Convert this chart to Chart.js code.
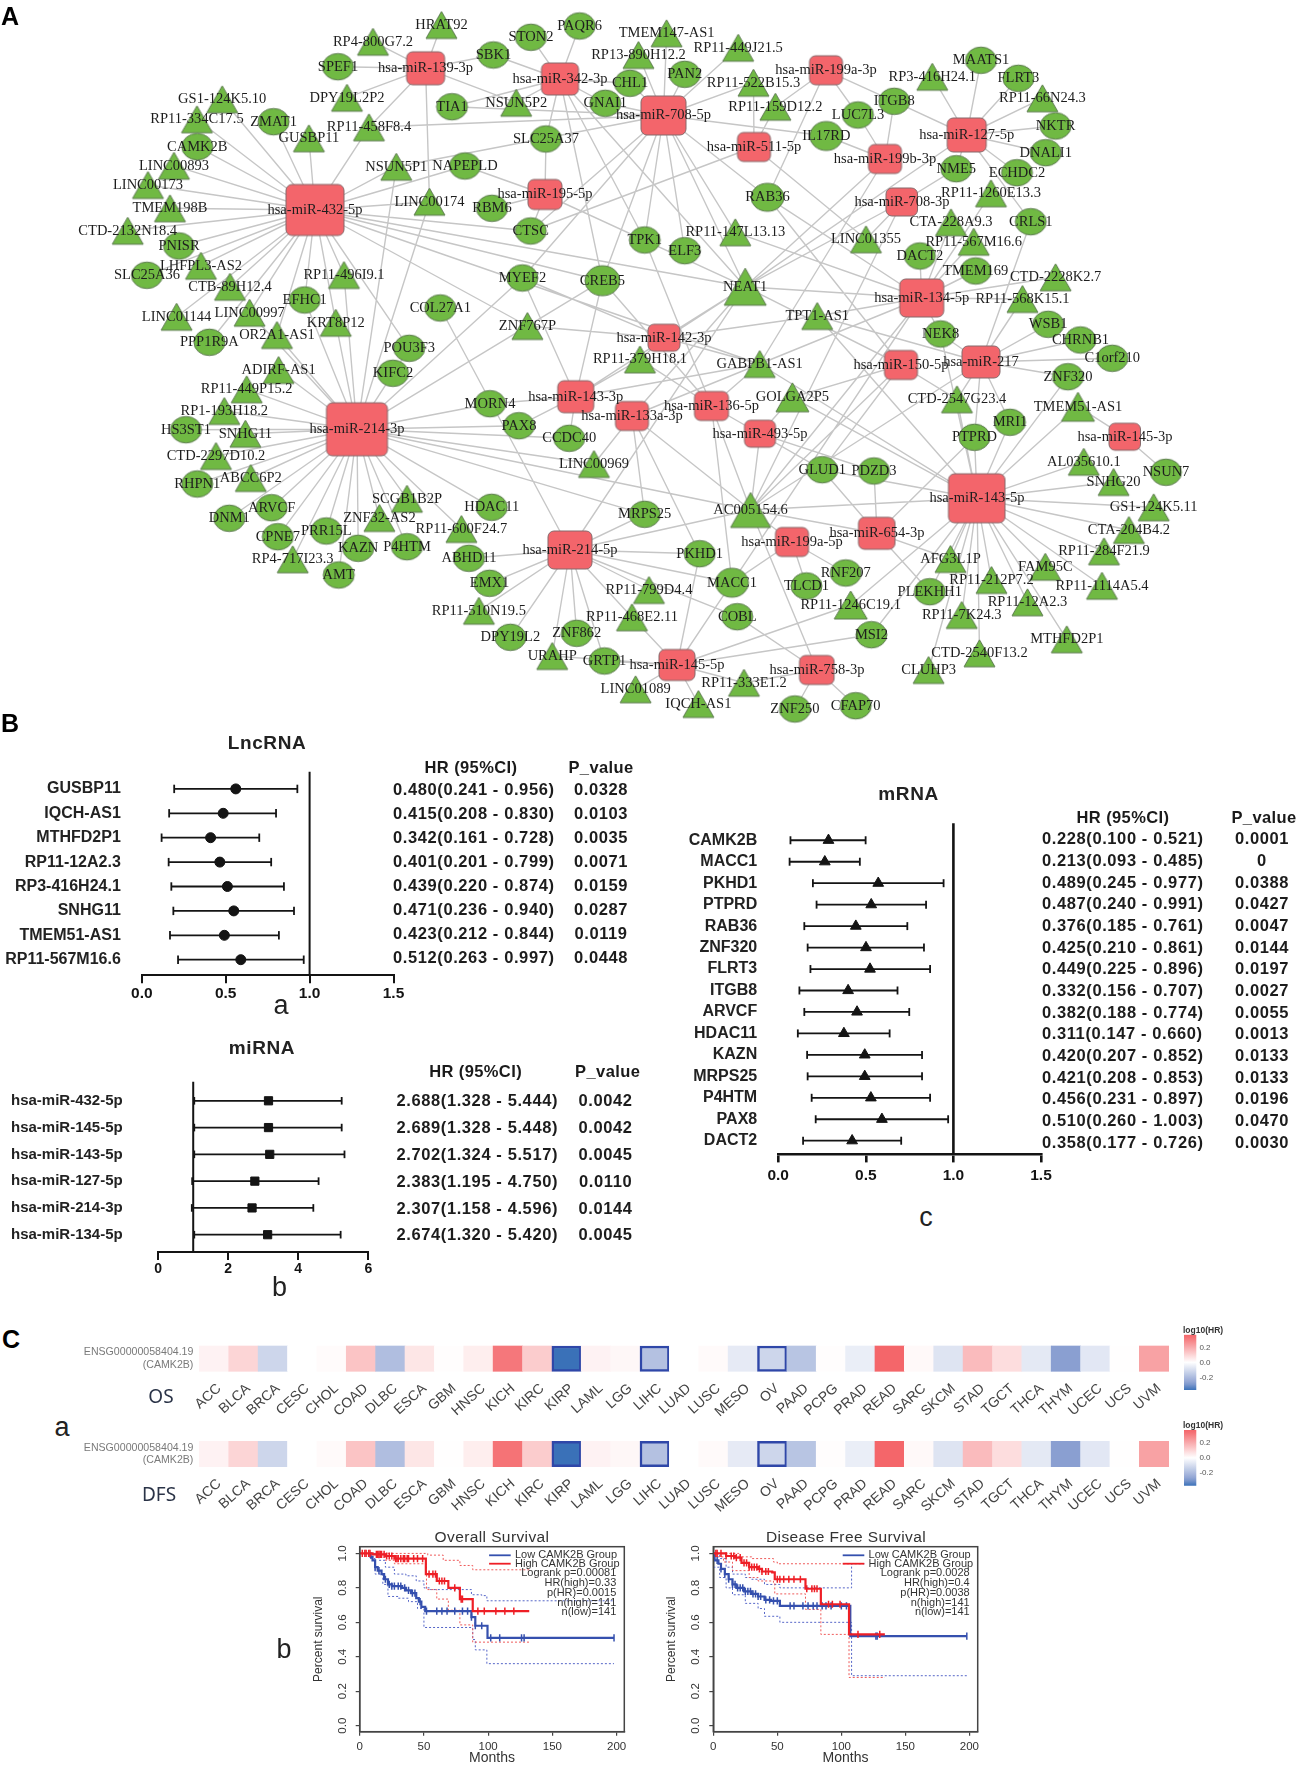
<!DOCTYPE html>
<html>
<head>
<meta charset="utf-8">
<title>CAMK2B network and survival</title>
<script src="https://cdn.jsdelivr.net/npm/chart.js@4"></script>
<style>
html, body { margin: 0; padding: 0; background: #fff; }
body { position: relative; width: 1299px; height: 1767px; overflow: hidden; font-family: "Liberation Sans", Arial, sans-serif; }
canvas { position: absolute; filter: blur(0.4px); }
.t { position: absolute; white-space: nowrap; transform: translate(-50%, -50%); color: #1a1a1a; }
</style>
</head>
<body>
<script>
'use strict';

// ---- A: network as [name, x, y, w, h] in layout units
const mirNodes = [
  ['hsa-miR-432-5p', 315, 210, 58, 51], ['hsa-miR-139-3p', 425.6, 68.3, 38, 33],
  ['hsa-miR-342-3p', 560, 79, 37, 32], ['hsa-miR-195-5p', 545, 194.5, 34, 30],
  ['hsa-miR-708-5p', 663.5, 115.5, 45, 39], ['hsa-miR-199a-3p', 826, 70.3, 33, 29],
  ['hsa-miR-511-5p', 754, 147, 33, 29], ['hsa-miR-199b-3p', 885, 159, 33, 29],
  ['hsa-miR-127-5p', 966.7, 135, 39, 34], ['hsa-miR-708-3p', 902, 202, 31.5, 28],
  ['hsa-miR-134-5p', 921.7, 298, 44, 38], ['hsa-miR-142-3p', 664, 337.7, 32, 27],
  ['hsa-miR-150-5p', 901, 365, 33, 29], ['hsa-miR-217', 981, 362, 38, 32],
  ['hsa-miR-143-3p', 575.7, 396.7, 36, 32], ['hsa-miR-133a-3p', 632, 416, 33, 29],
  ['hsa-miR-136-5p', 711.5, 406, 34, 29], ['hsa-miR-493-5p', 760, 433.7, 31, 27],
  ['hsa-miR-214-3p', 357, 429.3, 61, 53], ['hsa-miR-145-3p', 1125, 436.7, 31.5, 27],
  ['hsa-miR-143-5p', 977, 498.3, 56.5, 49], ['hsa-miR-654-3p', 877, 533.3, 36.5, 32],
  ['hsa-miR-199a-5p', 792, 542, 33, 29], ['hsa-miR-214-5p', 570, 550, 44, 38],
  ['hsa-miR-145-5p', 677, 665, 36, 31], ['hsa-miR-758-3p', 817, 670, 34.6, 29],
];
const mrnaNodes = [
  ['SPEF1', 338, 66.7], ['SBK1', 493.4, 55], ['STON2', 531, 37.3], ['PAQR6', 579.6, 26],
  ['CHL1', 630, 83.3], ['GNAI1', 605.3, 103.3], ['TIA1', 452, 106.7], ['ZMAT1', 273.6, 121.7],
  ['CAMK2B', 197.3, 146.7], ['SLC25A37', 546, 139], ['NAPEPLD', 465, 166], ['RBM6', 492, 208.3],
  ['CTSC', 530.7, 231], ['PNISR', 179, 246], ['SLC25A36', 147, 275.3], ['EFHC1', 304.7, 300],
  ['MYEF2', 522.4, 278], ['CREB5', 602.4, 280.7, 35, 30], ['COL27A1', 440.3, 308], ['PPP1R9A', 209.4, 342.3],
  ['POU3F3', 409.2, 348.3], ['TPK1', 644.7, 240], ['PAN2', 684.8, 74.3], ['LUC7L3', 858, 115],
  ['ITGB8', 894.2, 101.3], ['IL17RD', 826.3, 136, 33, 29], ['MAATS1', 981, 60.3], ['FLRT3', 1018.4, 78.3],
  ['NKTR', 1055.6, 126], ['DNALI1', 1045.7, 152.7], ['NME5', 956.3, 168.7], ['ECHDC2', 1017, 172.7],
  ['RAB36', 767.5, 197.3, 33, 28], ['CRLS1', 1030.8, 221.7], ['ELF3', 684.8, 250.7], ['DACT2', 919.9, 256],
  ['TMEM169', 975.7, 271], ['NEK8', 940.6, 334], ['WSB1', 1048.2, 324.3], ['CHRNB1', 1080.5, 340],
  ['C1orf210', 1112.3, 358.3], ['KIFC2', 393, 373.3], ['MORN4', 490, 403.7], ['PAX8', 519, 425.7],
  ['CCDC40', 569.2, 438.3], ['HS3ST1', 186, 429.7], ['RHPN1', 197.3, 484], ['ARVCF', 271.6, 507.7],
  ['DNM1', 229.3, 518.3], ['CPNE7', 277.8, 536.7], ['PRR15L', 326.3, 531], ['KAZN', 358.2, 548.3],
  ['P4HTM', 407, 546.7], ['AMT', 338.7, 575], ['HDAC11', 491.7, 507.3], ['ABHD11', 469, 558.3],
  ['EMX1', 489.6, 583.3], ['DPY19L2', 510.4, 637.3], ['ZNF862', 576.7, 633.3], ['GRTP1', 604.5, 661],
  ['MRPS25', 644.7, 514.3], ['ZNF320', 1068, 376.7], ['MRI1', 1010, 422.3], ['PTPRD', 974.5, 437.3],
  ['NSUN7', 1166, 472.3], ['GLUD1', 822.2, 469.7], ['PDZD3', 874, 471], ['PKHD1', 699.7, 553.7],
  ['MACC1', 732, 582.7, 33, 29], ['TLCD1', 806.5, 586], ['RNF207', 845.8, 573], ['PLEKHH1', 929.8, 591.7],
  ['COBL', 737.3, 616.7], ['MSI2', 871.4, 634.7], ['ZNF250', 794.9, 709], ['CFAP70', 855.7, 705.7],
];
const lncNodes = [
  ['HRAT92', 441.5, 25], ['RP4-800G7.2', 373, 41.7], ['DPY19L2P2', 347, 97.7], ['GS1-124K5.10', 222.2, 99.3],
  ['RP11-334C17.5', 197, 119.3], ['RP11-458F8.4', 369, 127.3], ['GUSBP11', 308.9, 138.3], ['NSUN5P2', 516.2, 102.7],
  ['NSUN5P1', 396.3, 166.7], ['LINC00893', 174, 165.7], ['LINC00173', 148, 185], ['LINC00174', 429.5, 201.7],
  ['TMEM198B', 170, 208.3], ['CTD-2132N18.4', 127.7, 230.7], ['LHFPL3-AS2', 201, 265.7], ['CTB-89H12.4', 230, 286.7],
  ['RP11-496I9.1', 344, 275], ['LINC01144', 176.6, 316.7], ['LINC00997', 249.6, 312.7], ['KRT8P12', 335.8, 322.7],
  ['OR2A1-AS1', 277, 335], ['ZNF767P', 527.4, 326], ['RP13-890H12.2', 638.5, 55], ['TMEM147-AS1', 666.6, 33.3],
  ['RP11-449J21.5', 738.2, 47.7], ['RP11-522B15.3', 753.5, 82.7], ['RP11-159D12.2', 775.4, 106.7], ['RP3-416H24.1', 932.3, 76.7],
  ['RP11-66N24.3', 1042.4, 98.3], ['RP11-1260E13.3', 991, 193.3], ['CTA-228A9.3', 951, 222.3], ['LINC01355', 866, 239.3],
  ['RP11-567M16.6', 973.7, 241.7], ['RP11-147L13.13', 735.3, 232.3], ['NEAT1', 745.2, 286.7, 42, 37], ['TPT1-AS1', 817.2, 316],
  ['CTD-2228K2.7', 1055.6, 277.3], ['RP11-568K15.1', 1022.5, 299], ['GABPB1-AS1', 759.7, 364], ['RP11-379H18.1', 640, 359.4],
  ['ADIRF-AS1', 278.6, 370], ['RP11-449P15.2', 246.7, 389.3], ['RP1-193H18.2', 224.3, 411], ['SNHG11', 245.4, 433.7],
  ['CTD-2297D10.2', 216, 456], ['ABCC6P2', 250.8, 478], ['SCGB1B2P', 407, 498.7], ['ZNF32-AS2', 379.4, 518],
  ['RP11-600F24.7', 461.4, 529], ['RP4-717I23.3', 292.7, 559.3], ['RP11-510N19.5', 478.9, 610.7], ['URAHP', 552.2, 656],
  ['LINC00969', 594, 464], ['LINC01089', 635.6, 689.3], ['RP11-799D4.4', 649, 590], ['RP11-468E2.11', 632, 617.3],
  ['GOLGA2P5', 792.4, 397.3, 33, 29], ['CTD-2547G23.4', 957, 399.3], ['TMEM51-AS1', 1078, 406.7, 33, 29], ['AL035610.1', 1083.8, 461.7],
  ['SNHG20', 1113.6, 482], ['GS1-124K5.11', 1153.7, 507.3], ['CTA-204B4.2', 1128.9, 530], ['RP11-284F21.9', 1104, 551.3],
  ['AC005154.6', 750.6, 510, 40, 35], ['AFG3L1P', 950.5, 559], ['FAM95C', 1045.3, 566.7], ['RP11-212P7.2', 991.5, 580],
  ['RP11-1114A5.4', 1102, 585.7], ['RP11-12A2.3', 1027.5, 602.3], ['RP11-1246C19.1', 850.7, 605, 33, 28], ['RP11-7K24.3', 961.7, 615],
  ['MTHFD2P1', 1066.8, 639.3], ['CTD-2540F13.2', 979.5, 653.3], ['CLUHP3', 928.6, 670], ['RP11-333E1.2', 744, 682.7],
  ['IQCH-AS1', 698.4, 704],
];
// miRNA -> targets, edges traced by eye
const mirTargets = {
  'hsa-miR-432-5p': ['GS1-124K5.10', 'RP11-334C17.5', 'ZMAT1', 'GUSBP11', 'CAMK2B', 'LINC00893', 'LINC00173', 'TMEM198B', 'CTD-2132N18.4', 'PNISR', 'LHFPL3-AS2', 'SLC25A36', 'CTB-89H12.4', 'LINC01144', 'LINC00997', 'PPP1R9A', 'OR2A1-AS1', 'EFHC1', 'RP11-496I9.1', 'KRT8P12', 'POU3F3', 'RP11-458F8.4', 'NSUN5P1', 'NAPEPLD', 'LINC00174', 'CTSC', 'CREB5', 'NEAT1', 'ZNF767P', 'GABPB1-AS1'],
  'hsa-miR-139-3p': ['RP4-800G7.2', 'HRAT92', 'SPEF1', 'SBK1', 'DPY19L2P2', 'RP11-458F8.4', 'LINC00174', 'NSUN5P2'],
  'hsa-miR-342-3p': ['STON2', 'PAQR6', 'SBK1', 'CHL1', 'GNAI1', 'NSUN5P2', 'TIA1', 'SLC25A37', 'TPK1', 'CREB5', 'NEAT1'],
  'hsa-miR-195-5p': ['NAPEPLD', 'SLC25A37', 'RBM6', 'CTSC', 'NEAT1'],
  'hsa-miR-708-5p': ['CHL1', 'PAN2', 'TMEM147-AS1', 'RP13-890H12.2', 'RP11-449J21.5', 'RP11-522B15.3', 'GNAI1', 'IL17RD', 'RP11-458F8.4', 'NSUN5P1', 'CTSC', 'MYEF2', 'CREB5', 'TPK1', 'RAB36', 'ELF3', 'NEAT1', 'RP11-147L13.13', 'TIA1'],
  'hsa-miR-199a-3p': ['ITGB8', 'LUC7L3', 'RP11-159D12.2', 'RAB36'],
  'hsa-miR-511-5p': ['RP11-522B15.3', 'RP11-159D12.2', 'LINC01355', 'CTSC'],
  'hsa-miR-199b-3p': ['IL17RD', 'LUC7L3', 'ITGB8', 'NEAT1', 'GABPB1-AS1'],
  'hsa-miR-127-5p': ['ITGB8', 'RP3-416H24.1', 'MAATS1', 'FLRT3', 'RP11-66N24.3', 'NKTR', 'DNALI1', 'ECHDC2', 'NME5', 'CRLS1', 'NEAT1'],
  'hsa-miR-708-3p': ['NME5', 'NEAT1', 'LINC01355', 'AC005154.6'],
  'hsa-miR-134-5p': ['DACT2', 'RP11-567M16.6', 'CTA-228A9.3', 'RP11-1260E13.3', 'TMEM169', 'CTD-2228K2.7', 'RP11-568K15.1', 'NEK8', 'RAB36', 'NEAT1', 'TPT1-AS1', 'AC005154.6', 'GABPB1-AS1', 'MACC1', 'RP11-147L13.13'],
  'hsa-miR-142-3p': ['GABPB1-AS1', 'NEAT1', 'ZNF767P', 'RP11-379H18.1', 'TPT1-AS1', 'MYEF2'],
  'hsa-miR-150-5p': ['GOLGA2P5', 'AC005154.6', 'GLUD1', 'CTD-2547G23.4', 'NEAT1', 'RAB36'],
  'hsa-miR-217': ['WSB1', 'CHRNB1', 'C1orf210', 'ZNF320', 'RP11-568K15.1', 'CTD-2547G23.4', 'PTPRD', 'MRI1', 'CRLS1', 'TPT1-AS1', 'AC005154.6', 'NEK8'],
  'hsa-miR-143-3p': ['MORN4', 'PAX8', 'CCDC40', 'RP11-379H18.1', 'GABPB1-AS1', 'NEAT1', 'CREB5', 'MYEF2'],
  'hsa-miR-133a-3p': ['MRPS25', 'AC005154.6', 'NEAT1', 'PKHD1', 'LINC00969', 'GABPB1-AS1'],
  'hsa-miR-136-5p': ['GABPB1-AS1', 'MACC1', 'AC005154.6', 'RP11-379H18.1', 'GLUD1', 'TPK1', 'CREB5'],
  'hsa-miR-493-5p': ['AC005154.6', 'GOLGA2P5', 'PDZD3'],
  'hsa-miR-214-3p': ['ADIRF-AS1', 'RP11-449P15.2', 'RP1-193H18.2', 'HS3ST1', 'SNHG11', 'CTD-2297D10.2', 'RHPN1', 'ABCC6P2', 'ARVCF', 'DNM1', 'CPNE7', 'PRR15L', 'RP4-717I23.3', 'KAZN', 'AMT', 'ZNF32-AS2', 'SCGB1B2P', 'P4HTM', 'RP11-600F24.7', 'HDAC11', 'MRPS25', 'LINC00969', 'CCDC40', 'MORN4', 'PAX8', 'KIFC2', 'POU3F3', 'OR2A1-AS1', 'KRT8P12', 'RP11-496I9.1', 'EFHC1', 'LINC00174', 'NSUN5P1', 'MYEF2', 'ZNF767P', 'CREB5', 'AC005154.6', 'LINC00997'],
  'hsa-miR-145-3p': ['TMEM51-AS1', 'NSUN7'],
  'hsa-miR-143-5p': ['PTPRD', 'MRI1', 'TMEM51-AS1', 'AL035610.1', 'SNHG20', 'GS1-124K5.11', 'CTA-204B4.2', 'RP11-284F21.9', 'RP11-1114A5.4', 'FAM95C', 'RP11-212P7.2', 'RP11-12A2.3', 'MTHFD2P1', 'RP11-7K24.3', 'CTD-2540F13.2', 'CLUHP3', 'AFG3L1P', 'PLEKHH1', 'RP11-1246C19.1', 'MSI2', 'AC005154.6', 'GLUD1', 'GOLGA2P5', 'CTD-2547G23.4', 'GABPB1-AS1', 'TPT1-AS1', 'NEK8', 'ZNF320'],
  'hsa-miR-654-3p': ['GLUD1', 'PDZD3', 'AFG3L1P', 'PLEKHH1', 'AC005154.6', 'PTPRD'],
  'hsa-miR-199a-5p': ['RNF207', 'TLCD1', 'AC005154.6', 'MACC1'],
  'hsa-miR-214-5p': ['ABHD11', 'EMX1', 'RP11-510N19.5', 'DPY19L2', 'ZNF862', 'URAHP', 'GRTP1', 'RP11-799D4.4', 'RP11-468E2.11', 'MRPS25', 'COL27A1', 'AC005154.6', 'PKHD1', 'MACC1', 'NEAT1', 'COBL'],
  'hsa-miR-145-5p': ['GRTP1', 'LINC01089', 'IQCH-AS1', 'RP11-333E1.2', 'PKHD1', 'MACC1', 'MSI2', 'RP11-1246C19.1', 'RP11-468E2.11', 'URAHP'],
  'hsa-miR-758-3p': ['ZNF250', 'CFAP70', 'COBL', 'AC005154.6', 'RP11-333E1.2'],
};

// ---- B: forest plots, plotted lo / mid / hi
const lncNames = ['GUSBP11', 'IQCH-AS1', 'MTHFD2P1', 'RP11-12A2.3', 'RP3-416H24.1', 'SNHG11', 'TMEM51-AS1', 'RP11-567M16.6'];
const lncLo = [0.193, 0.163, 0.118, 0.16, 0.176, 0.188, 0.168, 0.216];
const lncMid = [0.56, 0.485, 0.41, 0.465, 0.51, 0.548, 0.492, 0.59];
const lncHi = [0.927, 0.80, 0.70, 0.771, 0.847, 0.907, 0.817, 0.965];
const lncHR = ['0.480(0.241 - 0.956)', '0.415(0.208 - 0.830)', '0.342(0.161 - 0.728)', '0.401(0.201 - 0.799)', '0.439(0.220 - 0.874)', '0.471(0.236 - 0.940)', '0.423(0.212 - 0.844)', '0.512(0.263 - 0.997)'];
const lncP = ['0.0328', '0.0103', '0.0035', '0.0071', '0.0159', '0.0287', '0.0119', '0.0448'];

const mirNames = ['hsa-miR-432-5p', 'hsa-miR-145-5p', 'hsa-miR-143-5p', 'hsa-miR-127-5p', 'hsa-miR-214-3p', 'hsa-miR-134-5p'];
const mirLo = [1.03, 1.03, 1.03, 0.97, 0.96, 1.03];
const mirMid = [3.15, 3.15, 3.185, 2.76, 2.68, 3.125];
const mirHi = [5.24, 5.24, 5.32, 4.58, 4.43, 5.21];
const mirHR = ['2.688(1.328 - 5.444)', '2.689(1.328 - 5.448)', '2.702(1.324 - 5.517)', '2.383(1.195 - 4.750)', '2.307(1.158 - 4.596)', '2.674(1.320 - 5.420)'];
const mirP = ['0.0042', '0.0042', '0.0045', '0.0110', '0.0144', '0.0045'];

const mrnaNames = ['CAMK2B', 'MACC1', 'PKHD1', 'PTPRD', 'RAB36', 'ZNF320', 'FLRT3', 'ITGB8', 'ARVCF', 'HDAC11', 'KAZN', 'MRPS25', 'P4HTM', 'PAX8', 'DACT2'];
const mrnaLo = [0.07, 0.065, 0.198, 0.219, 0.149, 0.168, 0.184, 0.121, 0.149, 0.112, 0.165, 0.168, 0.191, 0.214, 0.142];
const mrnaMid = [0.287, 0.266, 0.571, 0.531, 0.443, 0.501, 0.524, 0.399, 0.45, 0.375, 0.494, 0.494, 0.529, 0.592, 0.422];
const mrnaHi = [0.499, 0.466, 0.944, 0.844, 0.737, 0.832, 0.867, 0.681, 0.748, 0.636, 0.821, 0.821, 0.867, 0.97, 0.702];
const mrnaHR = ['0.228(0.100 - 0.521)', '0.213(0.093 - 0.485)', '0.489(0.245 - 0.977)', '0.487(0.240 - 0.991)', '0.376(0.185 - 0.761)', '0.425(0.210 - 0.861)', '0.449(0.225 - 0.896)', '0.332(0.156 - 0.707)', '0.382(0.188 - 0.774)', '0.311(0.147 - 0.660)', '0.420(0.207 - 0.852)', '0.421(0.208 - 0.853)', '0.456(0.231 - 0.897)', '0.510(0.260 - 1.003)', '0.358(0.177 - 0.726)'];
const mrnaP = ['0.0001', '0', '0.0388', '0.0427', '0.0047', '0.0144', '0.0197', '0.0027', '0.0055', '0.0013', '0.0133', '0.0133', '0.0196', '0.0470', '0.0030'];

// ---- C: heat strips and survival curves
const cancers = ['ACC', 'BLCA', 'BRCA', 'CESC', 'CHOL', 'COAD', 'DLBC', 'ESCA', 'GBM', 'HNSC', 'KICH', 'KIRC', 'KIRP', 'LAML', 'LGG', 'LIHC', 'LUAD', 'LUSC', 'MESO', 'OV', 'PAAD', 'PCPG', 'PRAD', 'READ', 'SARC', 'SKCM', 'STAD', 'TGCT', 'THCA', 'THYM', 'UCEC', 'UCS', 'UVM'];
const osLogHR = [0.03, 0.10, -0.12, 0, 0.01, 0.14, -0.19, 0.06, 0.005, 0.04, 0.32, 0.12, -0.37, 0.03, 0.02, -0.18, 0, 0.012, -0.06, -0.12, -0.17, 0.005, -0.05, 0.36, 0.015, -0.08, 0.16, 0.08, -0.065, -0.28, -0.07, 0.003, 0.22];
const dfsLogHR = [0.03, 0.10, -0.12, 0, 0.012, 0.14, -0.19, 0.06, 0.003, 0.04, 0.33, 0.12, -0.37, 0.03, 0.02, -0.18, 0, 0.012, -0.06, -0.12, -0.17, 0.005, -0.05, 0.36, 0.015, -0.08, 0.16, 0.08, -0.065, -0.28, -0.07, 0.003, 0.22];
const sigCancers = ['KIRP', 'LIHC', 'OV'];
const geneLabel = ['ENSG00000058404.19', '(CAMK2B)'];
const colourTicks = [0.2, 0, -0.2];

const osLow = [[8, 1], [8.5, 0.98], [10, 0.96], [12, 0.92], [14, 0.90], [17, 0.88], [19, 0.85], [22, 0.82], [25, 0.81], [33, 0.80], [36, 0.785], [40, 0.77], [44, 0.74], [46, 0.72], [48, 0.69], [51, 0.665], [87, 0.63], [90, 0.58], [99.5, 0.51], [198, 0.51]];
const osHigh = [[0, 1], [10, 0.995], [20, 0.985], [27, 0.97], [51.5, 0.88], [60, 0.84], [69, 0.80], [78, 0.735], [88, 0.665], [132, 0.665]];
const osLowUp = [[8, 1], [15, 0.96], [20, 0.92], [27, 0.88], [36, 0.87], [44, 0.84], [50, 0.80], [55, 0.79], [87, 0.76], [95, 0.755], [99, 0.725], [198, 0.725]];
const osLowDown = [[8, 0.97], [12, 0.88], [18, 0.82], [22, 0.75], [30, 0.74], [38, 0.72], [45, 0.68], [50, 0.57], [87, 0.565], [88, 0.5], [90, 0.44], [99, 0.36], [198, 0.36]];
const osHighUp = [[0, 1], [51, 1], [53, 0.99], [65, 0.96], [78, 0.93], [88, 0.905], [132, 0.905]];
const osHighDown = [[0, 1], [20, 0.96], [27, 0.94], [52, 0.79], [60, 0.735], [69, 0.67], [78, 0.585], [88, 0.485], [132, 0.485]];
const osLowCens = [12, 15, 20, 23, 25, 27, 30, 32, 35, 38, 41, 43, 47, 52, 60, 64, 68, 74, 80, 84, 87, 90, 95, 102, 109, 126, 128, 198];
const osHighCens = [2, 4, 5, 7, 8, 13, 14, 15, 16, 17, 19, 21, 23, 25, 28, 29, 30, 32, 34, 35, 37, 38, 42, 45, 49, 54, 57, 59, 62, 64, 66, 74, 79, 80, 92, 97, 106, 113, 120];
const osStats = ['Logrank p=0.00081', 'HR(high)=0.33', 'p(HR)=0.0015', 'n(high)=141', 'n(low)=141'];

const dfsLow = [[0, 1], [1, 0.96], [4, 0.94], [6, 0.91], [9, 0.88], [12, 0.85], [15, 0.82], [18, 0.80], [24, 0.78], [30, 0.765], [35, 0.75], [40, 0.73], [45, 0.725], [52, 0.695], [107, 0.52], [198, 0.52]];
const dfsHigh = [[0, 1], [5, 1], [10, 0.985], [17, 0.975], [22, 0.945], [28, 0.92], [35, 0.91], [38, 0.895], [46, 0.89], [48, 0.85], [72, 0.795], [84, 0.705], [106, 0.53], [134, 0.53]];
const dfsLowUp = [[0, 1], [5, 0.97], [10, 0.92], [15, 0.88], [25, 0.86], [30, 0.85], [40, 0.82], [52, 0.80], [108, 0.94], [118, 0.94]];
const dfsLowDown = [[0, 0.92], [5, 0.86], [10, 0.80], [15, 0.76], [25, 0.71], [35, 0.68], [40, 0.635], [52, 0.60], [108, 0.29], [198, 0.29]];
const dfsHighUp = [[0, 1], [10, 1], [20, 0.98], [30, 0.97], [47, 0.95], [50, 0.94], [107, 0.94]];
const dfsHighDown = [[0, 0.98], [8, 0.95], [15, 0.90], [28, 0.86], [35, 0.84], [47, 0.83], [48, 0.765], [72, 0.675], [84, 0.53], [106, 0.28], [134, 0.28]];
const dfsLowCens = [3, 6, 9, 12, 15, 17, 19, 21, 23, 25, 27, 29, 31, 33, 35, 37, 41, 44, 47, 50, 60, 63, 70, 74, 78, 81, 85, 88, 92, 100, 104, 127, 128, 198];
const dfsHighCens = [2, 3, 6, 10, 14, 16, 18, 21, 24, 26, 28, 30, 32, 34, 36, 38, 41, 43, 50, 52, 55, 59, 63, 68, 73, 77, 79, 81, 90, 93, 99, 113, 130];
const dfsStats = ['Logrank p=0.0028', 'HR(high)=0.4', 'p(HR)=0.0038', 'n(high)=141', 'n(low)=141'];
const kmGroups = ['Low CAMK2B Group', 'High CAMK2B Group'];

Chart.defaults.font.family = '"Liberation Sans", Arial, sans-serif';
Chart.defaults.animation = false;
Chart.defaults.layout.autoPadding = false;
Chart.defaults.plugins.legend.display = false;
Chart.defaults.plugins.tooltip.enabled = false;

const BLACK = '#141414';
const EDGE = '#c6c6c6';
const RED_NODE = '#f3656b';
const GREEN_NODE = '#70b943';

function addText(str, x, y, css) {
  const d = document.createElement('div');
  d.className = 't';
  d.textContent = str;
  d.style.cssText = `left:${x}px;top:${y}px;${css}`;
  document.body.appendChild(d);
}

// canvas placed so that the plot area lands on box {l,t,r,b}; m = margins round it
// top margin has to stay above ticks.padding + half a label or chart.js eats into the plot
function place(box, m) {
  const left = Math.round(box.l - m.l);
  const top = Math.round(box.t - m.t);
  const c = document.createElement('canvas');
  c.width = Math.ceil(box.r + m.r - left);
  c.height = Math.ceil(box.b + m.b - top);
  c.style.left = left + 'px';
  c.style.top = top + 'px';
  document.body.appendChild(c);
  return {
    canvas: c,
    leftW: box.l - left,
    bottomH: c.height - (box.b - top),
    padding: { top: box.t - top, right: c.width - (box.r - left), left: 0, bottom: 0 },
  };
}
const fixTicks = vals => s => { s.ticks = vals.map(v => ({ value: v })); };

// ---- network
function sprite(kind, w, h) {
  const pad = 2;
  const c = document.createElement('canvas');
  c.width = Math.ceil(w + pad * 2);
  c.height = Math.ceil(h + pad * 2);
  const g = c.getContext('2d');
  g.beginPath();
  if (kind === 'rect') {
    g.roundRect(pad, pad, w, h, 6);
    g.fillStyle = RED_NODE;
    g.strokeStyle = '#85696b';
  } else if (kind === 'ellipse') {
    g.ellipse(c.width / 2, c.height / 2, w / 2, h / 2, 0, 0, Math.PI * 2);
    g.fillStyle = GREEN_NODE;
    g.strokeStyle = '#5d7a50';
  } else {
    g.moveTo(c.width / 2, pad);
    g.lineTo(pad + w, pad + h);
    g.lineTo(pad, pad + h);
    g.closePath();
    g.fillStyle = GREEN_NODE;
    g.strokeStyle = '#5d7a50';
  }
  g.lineWidth = 1;
  g.fill();
  g.stroke();
  return c;
}

const allNodes = [...mirNodes, ...mrnaNodes, ...lncNodes];
const nodeByName = {};
allNodes.forEach(n => { nodeByName[n[0]] = n; });
const edgePts = [];
Object.keys(mirTargets).forEach(m => {
  mirTargets[m].forEach(t => {
    const a = nodeByName[m], b = nodeByName[t];
    if (!a || !b) { console.warn('missing node', m, t); return; }
    edgePts.push({ x: a[1], y: a[2] }, { x: b[1], y: b[2] }, { x: NaN, y: NaN });
  });
});

function nodeSet(nodes, kind, defW, defH) {
  const sprites = nodes.map(n => sprite(kind, n[3] || defW, n[4] || defH));
  return {
    data: nodes.map(n => ({ x: n[1], y: n[2] })),
    pointStyle: ctx => sprites[ctx.dataIndex],
    pointRadius: 10,
    clip: false,
  };
}

const netFrame = place({ l: 0, t: 0, r: 1299, b: 725 }, { l: 0, t: 0, r: 0, b: 0 });
new Chart(netFrame.canvas, {
  type: 'scatter',
  data: {
    datasets: [
      nodeSet(mirNodes, 'rect', 34, 29),
      nodeSet(mrnaNodes, 'ellipse', 31, 26.5),
      nodeSet(lncNodes, 'tri', 31, 27),
      { data: edgePts, showLine: true, spanGaps: false, borderColor: EDGE, borderWidth: 1.4, pointRadius: 0, clip: false },
    ],
  },
  options: {
    responsive: false,
    events: [],
    layout: { padding: 0 },
    scales: {
      x: { display: false, min: 0, max: 1299 },
      y: { display: false, min: 0, max: 725, reverse: true },
    },
  },
  plugins: [{
    id: 'nodeNames',
    afterDatasetsDraw(chart) {
      const { ctx, scales } = chart;
      ctx.save();
      ctx.font = '14.5px "Liberation Serif", "Times New Roman", serif';
      ctx.fillStyle = '#1d1d1d';
      ctx.textAlign = 'center';
      ctx.textBaseline = 'middle';
      allNodes.forEach(n => ctx.fillText(n[0], scales.x.getPixelForValue(n[1]), scales.y.getPixelForValue(n[2])));
      ctx.restore();
    },
  }],
});

// ---- forest plots
function forest(o) {
  const f = place(o.box, o.margin);
  const yMin = -(o.rowY0 - o.box.t) / o.rowStep;
  const yMax = (o.box.b - o.rowY0) / o.rowStep;
  const rows = o.names.map((_, i) => i);
  const whisker = [];
  const caps = [];
  rows.forEach(i => {
    whisker.push({ x: o.lo[i], y: i }, { x: o.hi[i], y: i }, { x: NaN, y: NaN });
    caps.push({ x: o.lo[i], y: i }, { x: o.hi[i], y: i });
  });
  new Chart(f.canvas, {
    type: 'scatter',
    data: {
      datasets: [
        { data: rows.map(i => ({ x: o.mid[i], y: i })), pointStyle: o.marker, pointRadius: o.markerR, pointBackgroundColor: BLACK, pointBorderColor: BLACK, clip: false },
        { data: caps, pointStyle: 'line', pointRotation: 90, pointRadius: o.capR, pointBorderColor: BLACK, pointBorderWidth: 1.8, clip: false },
        { data: whisker, showLine: true, spanGaps: false, pointRadius: 0, borderColor: BLACK, borderWidth: 1.8, clip: false },
        { data: [{ x: 1, y: yMin }, { x: 1, y: yMax }], showLine: true, pointRadius: 0, borderColor: BLACK, borderWidth: o.axisW, clip: false },
      ],
    },
    options: {
      responsive: false,
      events: [],
      layout: { padding: f.padding },
      scales: {
        x: {
          min: o.ticks[0],
          max: o.ticks[o.ticks.length - 1],
          afterBuildTicks: fixTicks(o.ticks),
          afterFit: s => { s.height = f.bottomH; },
          grid: { drawOnChartArea: false, drawTicks: true, tickLength: 8, color: BLACK, lineWidth: o.axisW },
          border: { display: true, color: BLACK, width: o.axisW },
          ticks: { color: BLACK, font: { weight: 'bold', size: o.tickSize }, padding: o.tickPad, maxRotation: 0, callback: v => o.fmt(v) },
        },
        y: {
          reverse: true,
          min: yMin,
          max: yMax,
          afterBuildTicks: fixTicks(rows),
          afterFit: s => { s.width = f.leftW; },
          grid: { display: false, drawTicks: false },
          border: { display: false },
          ticks: { color: '#222', font: { weight: 'bold', size: o.nameSize }, padding: o.namePad, crossAlign: o.crossAlign || 'near', callback: v => o.names[v] },
        },
      },
    },
    plugins: [{
      id: 'hrColumns',
      afterDraw(chart) {
        const ctx = chart.ctx;
        const left = parseFloat(f.canvas.style.left);
        const top = parseFloat(f.canvas.style.top);
        ctx.save();
        ctx.font = 'bold 16.5px "Liberation Sans", Arial, sans-serif';
        ctx.letterSpacing = '0.6px';
        ctx.fillStyle = '#1c1c1c';
        ctx.textBaseline = 'middle';
        rows.forEach(i => {
          const y = o.textY0 + i * o.textStep - top;
          ctx.textAlign = 'left';
          ctx.fillText(o.hr[i], o.hrX - left, y);
          ctx.textAlign = 'center';
          ctx.fillText(o.p[i], o.pX - left, y);
        });
        ctx.restore();
      },
    }],
  });
}

const oneDec = v => v.toFixed(1);
forest({
  box: { l: 141.8, t: 771.7, r: 393.5, b: 975.3 }, margin: { l: 141.8, t: 40, r: 262, b: 30 },
  names: lncNames, lo: lncLo, mid: lncMid, hi: lncHi, hr: lncHR, p: lncP,
  rowY0: 788.9, rowStep: 24.4, ticks: [0, 0.5, 1, 1.5], fmt: oneDec, marker: 'circle', markerR: 5, capR: 4.2, axisW: 2,
  nameSize: 16, namePad: 21, tickSize: 15.5, tickPad: 1, textY0: 790.4, textStep: 24.0, hrX: 393, pX: 601,
});
forest({
  box: { l: 158.2, t: 1081.7, r: 368.3, b: 1252 }, margin: { l: 147, t: 40, r: 285, b: 30 },
  names: mirNames, lo: mirLo, mid: mirMid, hi: mirHi, hr: mirHR, p: mirP,
  rowY0: 1100.8, rowStep: 26.78, ticks: [0, 2, 4, 6], fmt: v => String(v), marker: 'rect', markerR: 5.8, capR: 3.8, axisW: 2,
  nameSize: 15, namePad: 20, crossAlign: 'far', tickSize: 14, tickPad: 1, textY0: 1101.5, textStep: 26.88, hrX: 396.5, pX: 605.6,
});
forest({
  box: { l: 778.2, t: 823.3, r: 1041, b: 1155 }, margin: { l: 170, t: 40, r: 258, b: 30 },
  names: mrnaNames, lo: mrnaLo, mid: mrnaMid, hi: mrnaHi, hr: mrnaHR, p: mrnaP,
  rowY0: 840.3, rowStep: 21.5, ticks: [0, 0.5, 1, 1.5], fmt: oneDec, marker: 'triangle', markerR: 6.2, capR: 4, axisW: 2.6,
  nameSize: 16, namePad: 21, tickSize: 15.5, tickPad: 4, textY0: 839.7, textStep: 21.67, hrX: 1042, pX: 1262,
});

// ---- heat strips
const lerp = (a, b, t) => a.map((v, i) => Math.round(v + (b[i] - v) * t));
function hrColour(v) {
  let c;
  if (v >= 0) c = lerp([255, 255, 255], [244, 102, 106], Math.min(v / 0.36, 1));
  else if (v >= -0.28) c = lerp([255, 255, 255], [138, 159, 209], -v / 0.28);
  else c = lerp([138, 159, 209], [58, 113, 184], Math.min((-v - 0.28) / 0.09, 1));
  return `rgb(${c[0]},${c[1]},${c[2]})`;
}

function heatStrip(box, values) {
  const f = place(box, { l: 125, t: 30, r: 12, b: 52 });
  new Chart(f.canvas, {
    type: 'bar',
    data: {
      labels: cancers,
      datasets: [{
        data: values.map(() => [0, 1]),
        backgroundColor: values.map(hrColour),
        borderColor: cancers.map(c => (sigCancers.includes(c) ? '#2f47a8' : 'transparent')),
        borderWidth: cancers.map(c => (sigCancers.includes(c) ? 2.5 : 0)),
        borderSkipped: false,
        barPercentage: 1,
        categoryPercentage: 1,
        clip: false,
      }],
    },
    options: {
      responsive: false,
      events: [],
      layout: { padding: f.padding },
      scales: {
        x: {
          afterFit: s => { s.height = f.bottomH; },
          grid: { display: false, drawTicks: false },
          border: { display: false },
          ticks: { autoSkip: false, minRotation: 42, maxRotation: 42, labelOffset: 5, padding: 9, color: '#444', font: { size: 14 } },
        },
        y: {
          min: 0,
          max: 1,
          afterBuildTicks: fixTicks([0.5]),
          afterFit: s => { s.width = f.leftW; },
          grid: { display: false, drawTicks: false },
          border: { display: false },
          ticks: { color: '#7a7a7a', font: { size: 10.6 }, padding: 6, callback: () => geneLabel },
        },
      },
    },
  });
}
heatStrip({ l: 199.4, t: 1346, r: 1168.7, b: 1371.3 }, osLogHR);
heatStrip({ l: 199.4, t: 1441.3, r: 1168.7, b: 1466.7 }, dfsLogHR);

function colourBar(box) {
  const f = place(box, { l: 0, t: 10, r: 30, b: 10 });
  const lim = 0.368;
  new Chart(f.canvas, {
    type: 'bar',
    data: {
      labels: ['log10(HR)'],
      datasets: [{
        data: [[-lim, lim]],
        barPercentage: 1,
        categoryPercentage: 1,
        backgroundColor(ctx) {
          const area = ctx.chart.chartArea;
          if (!area) return '#fff';
          const g = ctx.chart.ctx.createLinearGradient(0, area.top, 0, area.bottom);
          for (let i = 0; i <= 20; i++) g.addColorStop(i / 20, hrColour(lim - (2 * lim * i) / 20));
          return g;
        },
      }],
    },
    options: {
      responsive: false,
      events: [],
      layout: { padding: { top: f.padding.top, bottom: f.bottomH, left: 0, right: 0 } },
      scales: {
        x: { display: false },
        y: {
          position: 'right',
          min: -lim,
          max: lim,
          afterBuildTicks: fixTicks(colourTicks),
          afterFit: s => { s.width = f.padding.right; },
          grid: { display: false, drawTicks: false },
          border: { display: false },
          ticks: { color: '#555', font: { size: 8 }, padding: 3, callback: v => v.toFixed(1) },
        },
      },
    },
  });
}
colourBar({ l: 1183.5, t: 1334.7, r: 1196.4, b: 1390 });
colourBar({ l: 1183.5, t: 1430, r: 1196.4, b: 1485.7 });

// ---- survival curves
const toPts = arr => arr.map(p => ({ x: p[0], y: p[1] }));
function stepAt(curve, x) {
  let y = curve[0][1];
  curve.forEach(p => { if (p[0] <= x) y = p[1]; });
  return y;
}
function kmChart(box, s) {
  const f = place(box, { l: 49, t: 30, r: 8, b: 35.3 });
  const BLUE = '#3550ae', RED = '#ee1f26', BLUE_D = '#5666c8', RED_D = '#ef5a5a';
  const solid = (d, col) => ({ data: toPts(d), showLine: true, stepped: true, pointRadius: 0, borderColor: col, borderWidth: 2.2 });
  const dotted = (d, col) => ({ data: toPts(d), showLine: true, stepped: true, pointRadius: 0, borderColor: col, borderWidth: 1, borderDash: [2, 2] });
  const cens = (xs, curve, col) => ({ data: xs.map(x => ({ x, y: stepAt(curve, x) })), pointStyle: 'line', pointRotation: 90, pointRadius: 3.6, pointBorderWidth: 1.5, pointBorderColor: col });
  new Chart(f.canvas, {
    type: 'scatter',
    data: {
      datasets: [
        cens(s.highCens, s.high, RED),
        solid(s.high, RED),
        cens(s.lowCens, s.low, BLUE),
        solid(s.low, BLUE),
        dotted(s.highUp, RED_D), dotted(s.highDown, RED_D),
        dotted(s.lowUp, BLUE_D), dotted(s.lowDown, BLUE_D),
      ],
    },
    options: {
      responsive: false,
      events: [],
      layout: { padding: f.padding },
      scales: {
        x: {
          min: 0,
          max: s.xMax,
          afterBuildTicks: fixTicks([0, 50, 100, 150, 200]),
          afterFit: sc => { sc.height = f.bottomH; },
          grid: { drawOnChartArea: false, tickLength: 4, color: '#444', lineWidth: 1.2 },
          border: { color: '#444', width: 1.5 },
          ticks: { color: '#333', font: { size: 11.5 }, padding: 4, maxRotation: 0 },
          title: { display: true, text: 'Months', color: '#333', font: { size: 14 }, padding: 0 },
        },
        y: {
          min: -0.035,
          max: 1.039,
          afterBuildTicks: fixTicks([0, 0.2, 0.4, 0.6, 0.8, 1]),
          afterFit: sc => { sc.width = f.leftW; },
          grid: { drawOnChartArea: false, tickLength: 4, color: '#444', lineWidth: 1.2 },
          border: { color: '#444', width: 1.5 },
          ticks: { color: '#333', font: { size: 11.5 }, padding: 13, minRotation: 90, maxRotation: 90, labelOffset: -8, callback: v => v.toFixed(1) },
          title: { display: true, text: 'Percent survival', color: '#333', font: { size: 12 }, padding: 0 },
        },
      },
    },
    plugins: [{
      id: 'kmBox',
      afterDraw(chart) {
        const { ctx, chartArea: a } = chart;
        ctx.save();
        ctx.strokeStyle = '#444';
        ctx.lineWidth = 1.5;
        ctx.strokeRect(a.left, a.top, a.right - a.left, a.bottom - a.top);
        [BLUE, RED].forEach((c, i) => {
          ctx.strokeStyle = c;
          ctx.lineWidth = 1.8;
          ctx.beginPath();
          ctx.moveTo(a.left + 129.4, a.top + 8.6 + i * 8.4);
          ctx.lineTo(a.left + 151, a.top + 8.6 + i * 8.4);
          ctx.stroke();
        });
        ctx.font = '11px "Liberation Sans", Arial, sans-serif';
        ctx.fillStyle = '#333';
        ctx.textBaseline = 'middle';
        ctx.textAlign = 'left';
        kmGroups.forEach((g, i) => ctx.fillText(g, a.left + 155.3, a.top + 8.6 + i * 8.4));
        ctx.textAlign = 'right';
        s.stats.forEach((g, i) => ctx.fillText(g, a.right - 8, a.top + 26.3 + i * 9.85));
        ctx.restore();
      },
    }],
  });
}
kmChart({ l: 359.7, t: 1546.7, r: 624.3, b: 1731.7 }, { low: osLow, high: osHigh, lowUp: osLowUp, lowDown: osLowDown, highUp: osHighUp, highDown: osHighDown, lowCens: osLowCens, highCens: osHighCens, stats: osStats, xMax: 206 });
kmChart({ l: 713.3, t: 1546.7, r: 977.7, b: 1731.7 }, { low: dfsLow, high: dfsHigh, lowUp: dfsLowUp, lowDown: dfsLowDown, highUp: dfsHighUp, highDown: dfsHighDown, lowCens: dfsLowCens, highCens: dfsHighCens, stats: dfsStats, xMax: 206.5 });

// ---- text outside the plots
const panel = 'font-weight:bold;font-size:25px;color:#000;';
addText('A', 10, 15.7, panel);
addText('B', 10, 723, panel);
addText('C', 11, 1339, panel);
const small = 'font-size:27px;color:#222;';
addText('a', 281, 1005, small);
addText('b', 279.5, 1287, small);
addText('c', 926, 1216.7, small);
addText('a', 62, 1426.7, small);
addText('b', 284, 1649, small);

const heading = 'font-weight:bold;font-size:19px;letter-spacing:.6px;color:#222;';
addText('LncRNA', 267, 743, heading);
addText('miRNA', 262, 1048.4, heading);
addText('mRNA', 908.6, 794, heading);
const colHead = 'font-weight:bold;font-size:16.5px;letter-spacing:.4px;';
[[471, 601, 766.7], [475.6, 607.7, 1070.6], [1123, 1264, 816.7]].forEach(r => {
  addText('HR (95%CI)', r[0], r[2], colHead);
  addText('P_value', r[1], r[2], colHead);
});

const strip = 'font-family:"Noto Sans",sans-serif;font-size:19px;color:#2a3347;';
addText('OS', 161, 1396, strip);
addText('DFS', 159, 1494, strip);
const barHead = 'font-weight:bold;font-size:8.5px;color:#333;transform:translateY(-50%);';
addText('log10(HR)', 1183, 1330, barHead);
addText('log10(HR)', 1183, 1425, barHead);
const kmHead = 'font-size:15.5px;letter-spacing:.4px;color:#333;';
addText('Overall Survival', 492, 1537, kmHead);
addText('Disease Free Survival', 846, 1537, kmHead);
</script>
</body>
</html>
